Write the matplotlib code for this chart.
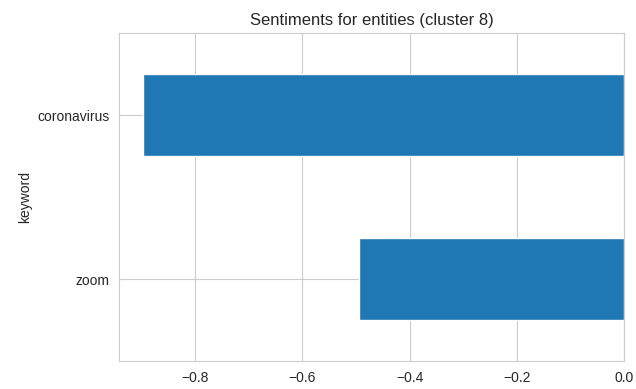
import matplotlib
matplotlib.use("Agg")
import matplotlib.pyplot as plt
import seaborn as sns

keywords = ["zoom", "coronavirus"]
sentiments = [-0.495, -0.897]

sns.set_style("whitegrid")
plt.rcParams['font.family'] = ['Liberation Sans', 'DejaVu Sans']

fig = plt.figure(figsize=(6.36, 3.89), dpi=100)
ax = fig.add_axes([0.1876, 0.072, 0.981 - 0.1876, 0.9144 - 0.072])
ax.barh(keywords, sentiments, height=0.5, color="#1f77b4")
ax.set_ylim(-0.5, 1.5)
ax.set_xticks([-0.8, -0.6, -0.4, -0.2, 0.0])
ax.set_ylabel("keyword", fontsize=10)
ax.set_title("Sentiments for entities (cluster 8)", fontsize=12)
ax.tick_params(labelsize=10)
fig.savefig("out.png", dpi=100)
